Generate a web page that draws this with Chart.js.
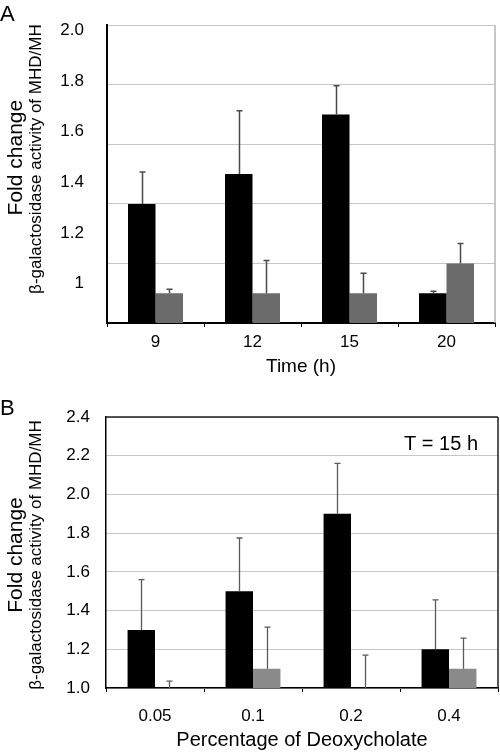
<!DOCTYPE html>
<html><head><meta charset="utf-8">
<script src="https://cdn.jsdelivr.net/npm/chart.js@4/dist/chart.umd.min.js"></script>
<style>
html,body{margin:0;padding:0;background:#fff}
body{position:relative;width:500px;height:753px;overflow:hidden}
canvas{display:block;position:absolute;left:0}
</style>
</head><body>
<canvas id="ca" width="500" height="380" style="top:0"></canvas>
<canvas id="cb" width="500" height="373" style="top:380px"></canvas>
<script>
const FONT = "'Liberation Sans', Arial, Helvetica, sans-serif";

// ---- Panel A data ----
const timeLabels = ['9', '12', '15', '20'];
const mhdA = [1.4, 1.5, 1.7, 1.1];
const mhdAErr = [0.107, 0.213, 0.097, 0.007];
const mhA = [1.1, 1.1, 1.1, 1.2];
const mhAErr = [0.013, 0.11, 0.067, 0.067];
const yTickValsA = [1.0, 1.2, 1.4, 1.6, 1.8, 2.0];
const yTickLabelsA = ['1', '1.2', '1.4', '1.6', '1.8', '2.0'];

// ---- Panel B data ----
const doxLabels = ['0.05', '0.1', '0.2', '0.4'];
const mhdB = [1.3, 1.5, 1.9, 1.2];
const mhdBErr = [0.26, 0.275, 0.26, 0.255];
const mhB = [1.0, 1.1, 1.0, 1.1];
const mhBErr = [0.036, 0.215, 0.17, 0.158];
const yTickLabelsB = ['1.0', '1.2', '1.4', '1.6', '1.8', '2.0', '2.2', '2.4'];

const errorBars = {
  id: 'errorBars',
  afterDatasetsDraw(chart, args, o) {
    const ctx = chart.ctx;
    chart.data.datasets.forEach((ds, i) => {
      if (!ds.errors) return;
      const meta = chart.getDatasetMeta(i);
      const ys = chart.scales[meta.yAxisID];
      ctx.save();
      ctx.strokeStyle = o.color;
      ctx.lineWidth = o.width;
      meta.data.forEach((bar, j) => {
        const v = ds.data[j], e = ds.errors[j];
        const y0 = ys.getPixelForValue(v), y1 = ys.getPixelForValue(v + e);
        const x = Math.round(bar.x) + 0.5;
        ctx.beginPath();
        ctx.moveTo(x, y0); ctx.lineTo(x, y1);
        ctx.moveTo(x - o.cap, y1); ctx.lineTo(x + o.cap, y1);
        ctx.stroke();
      });
      ctx.restore();
    });
  }
};

const decor = {
  id: 'decor',
  afterDraw(chart, args, o) {
    const {ctx, chartArea: a} = chart;
    ctx.save();
    ctx.strokeStyle = o.frameColor;
    ctx.lineWidth = o.frameWidth;
    ctx.beginPath();
    if (o.frameTop) { ctx.moveTo(a.left, a.top); ctx.lineTo(a.right, a.top); }
    ctx.moveTo(a.right, a.top); ctx.lineTo(a.right, a.bottom);
    ctx.stroke();

    ctx.fillStyle = '#000';
    ctx.textBaseline = 'alphabetic';
    ctx.textAlign = 'left';
    ctx.font = o.letterFont + ' ' + FONT;
    ctx.fillText(o.letter, o.letterX, o.letterY);

    const cy = (a.top + a.bottom) / 2;
    ctx.textAlign = 'center';
    ctx.save();
    ctx.translate(o.titleX, cy + o.titleDy);
    ctx.rotate(-Math.PI / 2);
    ctx.font = '21px ' + FONT;
    ctx.fillText('Fold change', 0, 0);
    ctx.restore();
    ctx.save();
    ctx.translate(o.subX, cy + o.subDy);
    ctx.rotate(-Math.PI / 2);
    ctx.font = '17px ' + FONT;
    ctx.fillText('\u03B2-galactosidase activity of MHD/MH', 0, 0);
    ctx.restore();

    if (o.note) {
      ctx.textAlign = 'right';
      ctx.font = '20px ' + FONT;
      ctx.fillText(o.note, a.right - 20, a.top + 33);
    }
    ctx.restore();
  }
};

const tickFont = {family: FONT, size: 17};

// ---- Chart A ----
new Chart(document.getElementById('ca'), {
  type: 'bar',
  data: {
    labels: timeLabels,
    datasets: [
      {label: 'MHD', data: mhdA, errors: mhdAErr, backgroundColor: '#000000', yAxisID: 'y'},
      {label: 'MH', data: mhA, errors: mhAErr, backgroundColor: '#6b6b6b', yAxisID: 'y'}
    ]
  },
  options: {
    responsive: false,
    devicePixelRatio: 1,
    animation: false,
    layout: {padding: {top: 23, right: 5, left: 0, bottom: 0}},
    datasets: {bar: {categoryPercentage: 0.567, barPercentage: 1.0, borderWidth: 0}},
    plugins: {
      legend: {display: false},
      tooltip: {enabled: false},
      errorBars: {color: '#4a4a4a', width: 1.5, cap: 3},
      decor: {frameColor: '#b4b4b4', frameWidth: 1.5, frameTop: false,
              letter: 'A', letterFont: '22px', letterX: 0, letterY: 21,
              titleX: 22, titleDy: -16.5, subX: 41, subDy: -15}
    },
    scales: {
      x: {
        grid: {display: true, drawOnChartArea: false, drawTicks: true, tickLength: 4, color: '#000', offset: true},
        border: {display: true, color: '#000', width: 2},
        ticks: {font: tickFont, color: '#000', padding: 5},
        title: {display: true, text: 'Time (h)', font: {family: FONT, size: 19}, color: '#000', padding: {top: 0, bottom: 2}},
        afterFit: s => { s.height = 57; }
      },
      y: {
        type: 'linear', position: 'left', weight: 0,
        min: 1.0, max: 2.0,
        ticks: {display: false, stepSize: 0.2},
        grid: {color: '#c6c6c6', lineWidth: 1, drawTicks: false},
        border: {display: true, color: '#000', width: 2},
        afterFit: s => { s.width = 0; }
      },
      yl: {
        type: 'linear', position: 'left', weight: 1,
        min: 0.845, max: 2.0196,
        grid: {display: false},
        border: {display: false},
        ticks: {font: tickFont, color: '#000', padding: 15,
                callback: (v, i) => yTickLabelsA[i]},
        afterBuildTicks: s => { s.ticks = yTickValsA.map(v => ({value: v})); },
        afterFit: s => { s.width = 107; }
      }
    }
  },
  plugins: [errorBars, decor]
});

// ---- Chart B ----
new Chart(document.getElementById('cb'), {
  type: 'bar',
  data: {
    labels: doxLabels,
    datasets: [
      {label: 'MHD', data: mhdB, errors: mhdBErr, backgroundColor: '#000000'},
      {label: 'MH', data: mhB, errors: mhBErr, backgroundColor: '#8a8a8a'}
    ]
  },
  options: {
    responsive: false,
    devicePixelRatio: 1,
    animation: false,
    layout: {padding: {top: 37, right: 2, left: 0, bottom: 0}},
    datasets: {bar: {categoryPercentage: 0.56, barPercentage: 1.0, borderWidth: 0}},
    plugins: {
      legend: {display: false},
      tooltip: {enabled: false},
      errorBars: {color: '#5a5a5a', width: 1.3, cap: 3},
      decor: {frameColor: '#222', frameWidth: 1.5, frameTop: true,
              letter: 'B', letterFont: '22px', letterX: 0, letterY: 35,
              titleX: 22, titleDy: 2.5, subX: 41, subDy: 2.5,
              note: 'T = 15 h'}
    },
    scales: {
      x: {
        grid: {display: true, drawOnChartArea: false, drawTicks: true, tickLength: 4, color: '#000', offset: true},
        border: {display: true, color: '#000', width: 1.5},
        ticks: {font: tickFont, color: '#000', padding: 14},
        title: {display: true, text: 'Percentage of Deoxycholate', font: {family: FONT, size: 20}, color: '#000', padding: {top: 0, bottom: 1}},
        afterFit: s => { s.height = 65; }
      },
      y: {
        type: 'linear', position: 'left',
        min: 1.0, max: 2.4,
        grid: {color: '#c6c6c6', lineWidth: 1, drawTicks: false},
        border: {display: true, color: '#000', width: 1.5},
        ticks: {font: tickFont, color: '#000', padding: 16, stepSize: 0.2,
                callback: (v, i) => yTickLabelsB[i]},
        afterFit: s => { s.width = 106; }
      }
    }
  },
  plugins: [errorBars, decor]
});
</script>
</body></html>
